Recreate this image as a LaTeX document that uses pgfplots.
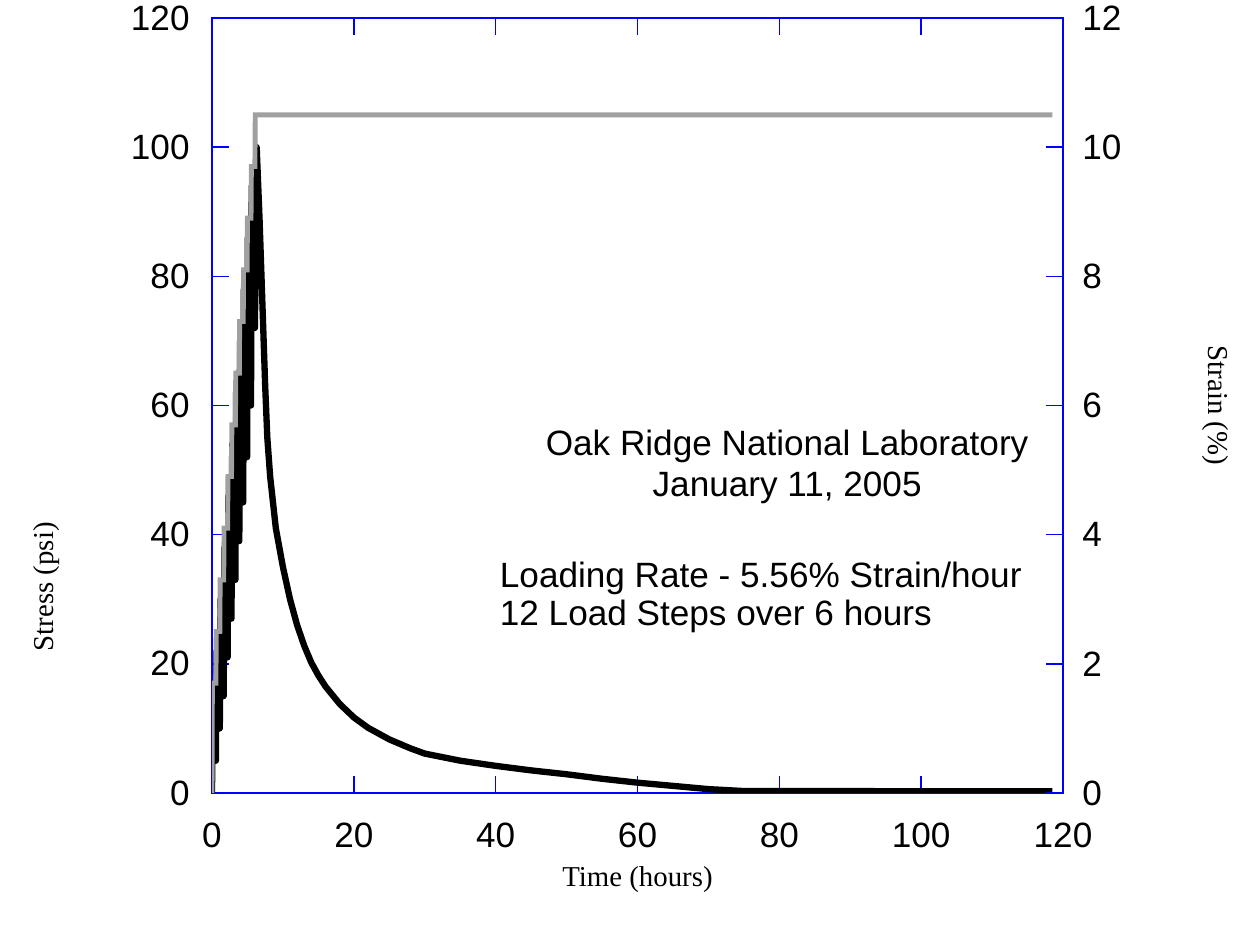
\documentclass[border=0pt]{standalone}
\usepackage{pgfplots}
\pgfplotsset{compat=1.18}
\usepackage{fontspec}
\setmainfont{Liberation Sans}
\newfontfamily\seriffont{Liberation Serif}
\definecolor{axblue}{RGB}{0,0,255}
\definecolor{lgray}{RGB}{160,160,160}

\pgfplotstableread{
t s
0 0
0.1 14
0.55 5
0.65 22
1.1 10
1.2 30
1.65 15
1.75 38
2.2 21
2.3 46
2.75 27
2.85 54
3.3 33
3.4 62
3.85 39
3.95 70
4.4 45
4.5 78
4.95 52
5.05 86
5.5 60
5.6 94
6.05 72
6.3 100
6.7 89
7.1 76
7.5 63
7.8 55
8.2 49
9 41
10 35
11 30
12 26
13 22.8
14 20.2
15 18.2
16 16.5
18 13.8
20 11.7
22 10.1
25 8.3
28 6.9
30 6.1
35 5
40 4.2
45 3.5
50 2.9
55 2.2
60 1.6
65 1.1
70 0.6
75 0.3
80 0.3
90 0.3
100 0.25
110 0.25
118.5 0.25
}\stress

\pgfplotstableread{
t e
0 0
0.05 1.7
0.55 1.7
0.6 2.5
1.1 2.5
1.15 3.3
1.65 3.3
1.7 4.1
2.2 4.1
2.25 4.9
2.75 4.9
2.8 5.7
3.3 5.7
3.35 6.5
3.85 6.5
3.9 7.3
4.4 7.3
4.45 8.1
4.95 8.1
5.0 8.9
5.5 8.9
5.55 9.7
6.05 9.7
6.1 10.5
118.5 10.5
}\strain

\begin{document}
\begin{tikzpicture}
\pgfplotsset{
  every axis/.append style={
    scale only axis,
    width=85.1mm, height=77.5mm,
    xmin=0, xmax=120,
    axis line style={axblue, line width=0.45pt},
    every tick/.style={axblue, line width=0.45pt},
    major tick length=1.7mm,
    tick align=inside,
    tick label style={font=\fontsize{10}{12}\selectfont},
    /pgf/number format/assume math mode=true,
  }
}
\begin{axis}[
  ymin=0, ymax=120,
  xtick={0,20,...,120},
  ytick={0,20,...,120},
  ytick pos=left,
  xticklabel style={yshift=-1.8mm},
  yticklabel style={xshift=-1.0mm},
  xlabel={\seriffont Time (hours)},
  ylabel={\seriffont Stress (psi)},
  label style={font=\fontsize{8.2}{10}\selectfont},
  xlabel style={at={(axis description cs:0.5,-0.1123)}, anchor=center},
  ylabel style={at={(axis description cs:-0.1939,0.266)}, anchor=center},
]
\addplot[black, line width=1.8pt, line join=round] table[x=t, y=s] {\stress};
\node[anchor=center, font=\fontsize{10}{12}\selectfont] at (axis cs:81.1,53.6) {Oak Ridge National Laboratory};
\node[anchor=center, font=\fontsize{10}{12}\selectfont] at (axis cs:81.1,47.2) {January 11, 2005};
\node[anchor=west, inner sep=0pt, font=\fontsize{10}{12}\selectfont] at (axis cs:40.5,33.3) {Loading Rate - 5.56\% Strain/hour};
\node[anchor=west, inner sep=0pt, font=\fontsize{10}{12}\selectfont] at (axis cs:40.5,27.3) {12 Load Steps over 6 hours};
\end{axis}
\begin{axis}[
  ymin=0, ymax=12,
  axis y line*=right,
  axis x line=none,
  ytick={0,2,...,12},
  yticklabel style={xshift=0.7mm},
  ylabel={\seriffont Strain (\%)},
  label style={font=\fontsize{8.2}{10}\selectfont},
  ylabel style={at={(axis description cs:1.1786,0.5)}, anchor=center, rotate=180},
]
\addplot[lgray, line width=1.4pt, line join=miter] table[x=t, y=e] {\strain};
\end{axis}
\pgfresetboundingbox
\path (current axis.south west) ++(-21.2mm,-13.5mm) coordinate (bbA);
\path (current axis.north east) ++(18.8mm,1.8mm) coordinate (bbB);
\path[use as bounding box] (bbA) rectangle (bbB);
\end{tikzpicture}
\end{document}
